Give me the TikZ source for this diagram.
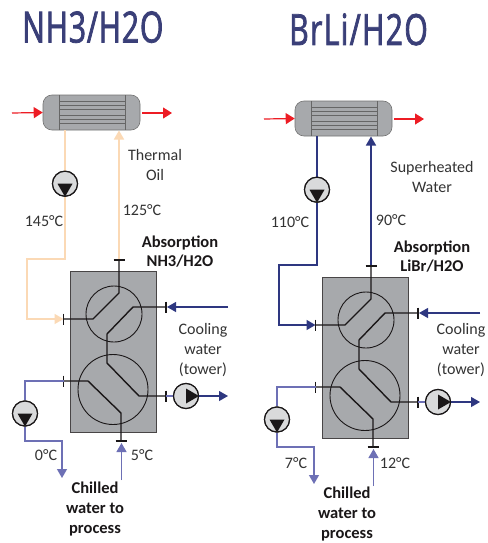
\documentclass[tikz,border=0pt]{standalone}
\usepackage{fontspec}
\setmainfont{Carlito}
\newfontfamily\titlefont[FakeStretch=0.70,FakeBold=1.8,LetterSpace=2]{Open Sans}
\newfontfamily\titlefontb[FakeStretch=0.70,FakeBold=1.8,LetterSpace=3.2]{Open Sans}
\usetikzlibrary{arrows.meta}
\definecolor{oilc}{HTML}{FBD9B5}
\definecolor{darkb}{HTML}{2E3780}
\definecolor{lightb}{HTML}{6D70B5}
\definecolor{titleb}{HTML}{3A3F78}
\definecolor{redc}{HTML}{ED1C24}
\definecolor{blk}{HTML}{1A1718}
\definecolor{boxg}{HTML}{A7A9AC}
\definecolor{pumpg}{HTML}{D9DADB}
\definecolor{txt}{HTML}{333333}
\tikzset{
  unitbox/.style={draw=blk!80,line width=1pt,fill=boxg,minimum width=85.5pt,minimum height=161pt,inner sep=0pt},
  condbox/.style={draw=black!55,line width=.6pt,fill=boxg,rounded corners=9pt,minimum width=97pt,minimum height=35pt,inner sep=0pt},
  hxring/.style={circle,draw=blk,line width=.9pt,inner sep=0pt},
  pumpn/.style={circle,draw=blk,line width=1.2pt,fill=pumpg,minimum size=25pt,inner sep=0pt},
  tip/.style={-{Triangle[length=9pt,width=10pt]}},
  redarrow/.style={draw=redc,line width=1.2pt,-{Triangle[length=9pt,width=11pt]}},
  blackline/.style={draw=blk,line width=1.4pt},
  lab/.style={text=txt,font=\fontsize{16}{17}\selectfont,inner sep=0pt,align=center},
  blab/.style={text=blk,font=\fontsize{16.5}{17}\selectfont\bfseries,inner sep=0pt,align=center},
  titlelab/.style={text=titleb,inner sep=0pt,anchor=base west}
}
\newcommand{\tickh}[2]{\draw[blackline] (#1)+(-5.5,#2) -- +(5.5,#2);}
\newcommand{\tickv}[2]{\draw[blackline] (#1)+(#2,-5.5) -- +(#2,5.5);}
% #1 prefix, #2 x shift, #3 y shift, #4 hot colour
\newcommand{\unitdraw}[4]{
\begin{scope}[shift={(#2,#3)}]
  % condenser
  \node[condbox] (#1cond) at (91.5,112.5) {};
  \draw[line width=.7pt,black!60] (59,95) -- (59,130) (125,95) -- (125,130);
  \foreach \yy/\ww in {101/.8,105/.5,109.5/.9,115/.8,119/.5,123.5/.9}
    \draw[line width=\ww pt,black!60] (59,\yy) -- (125,\yy);
  \coordinate (#1rin) at (12,113);
  \coordinate (#1rout) at (142,113);
  \coordinate (#1rend) at (172,113);
  \draw[redarrow] (#1rin) -- (#1cond.west);
  \draw[redarrow] (#1rout) -- (#1rend);
  % box and rings
  \node[unitbox] (#1box) at (113.25,351.5) {};
  \node[hxring,minimum size=56pt] (#1top) at (114,314) {};
  \node[hxring,minimum size=70pt] (#1bot) at (113,389.5) {};
  % hot loop
  \coordinate (#1a) at (65,259);
  \coordinate (#1b) at (27,259);
  \coordinate (#1c) at (27,319);
  \coordinate (#1d) at (63.5,319);
  \coordinate (#1e) at (119,260);
  \coordinate (#1f) at (119,130.5);
  \node[pumpn] (#1p1) at (65,183.7) {};
  \draw[draw=#4,line width=1.6pt] (65,130) -- (#1p1);
  \draw[draw=#4,line width=1.6pt,tip] (#1p1) -- (#1a) -- (#1b) -- (#1c) -- (#1d);
  \draw[draw=#4,line width=1.6pt,tip] (#1e) -- (#1f);
  \node[pumpn] at (#1p1) {};
  \fill[blk] (#1p1)+(-7.5,0) -- +(7.5,0) -- +(0,13) -- cycle;
  % black internals
  \coordinate (#1g) at (119,293);
  \coordinate (#1h) at (93,319);
  \coordinate (#1i) at (166,307);
  \coordinate (#1j) at (133,307);
  \coordinate (#1k) at (107,334);
  \coordinate (#1l) at (107,363);
  \coordinate (#1m) at (139,396);
  \coordinate (#1n) at (166,396);
  \coordinate (#1o) at (63.5,381);
  \coordinate (#1q) at (88,381);
  \coordinate (#1r) at (121,413);
  \coordinate (#1s) at (121,441);
  \draw[blackline] (#1e) -- (#1g) -- (#1h) -- (#1d);
  \draw[blackline] (#1i) -- (#1j) -- (#1k) -- (#1l) -- (#1m) -- (#1n);
  \draw[blackline] (#1o) -- (#1q) -- (#1r) -- (#1s);
  \tickh{#1e}{0}
  \tickh{#1s}{0}
  \tickv{#1d}{0}
  \tickv{#1i}{0}
  \tickv{#1n}{0}
  \tickv{#1o}{0}
  % cooling water
  \coordinate (#1w) at (228,307);
  \coordinate (#1x) at (228,396);
  \draw[draw=darkb,line width=1.1pt,tip] (#1w) -- (167,307);
  \node[pumpn] (#1p2) at (186,396) {};
  \draw[draw=lightb,line width=1.2pt] (#1n) -- (#1p2);
  \draw[draw=darkb,line width=1.1pt,tip] (#1p2) -- (#1x);
  \node[pumpn] at (#1p2) {};
  \fill[blk] (#1p2)+(0,-7.5) -- +(0,7.5) -- +(13,0) -- cycle;
  % chilled water
  \coordinate (#1t) at (25,381);
  \coordinate (#1u) at (25,441);
  \coordinate (#1v) at (62,441);
  \coordinate (#1y) at (62,478);
  \coordinate (#1z) at (121.5,480);
  \coordinate (#1zz) at (121.5,443);
  \node[pumpn] (#1p3) at (25,413.5) {};
  \draw[draw=lightb,line width=1.3pt] (#1o) -- (#1t) -- (#1p3);
  \draw[draw=lightb,line width=1.3pt,tip] (#1p3) -- (#1u) -- (#1v) -- (#1y);
  \draw[draw=lightb,line width=1.3pt,tip] (#1z) -- (#1zz);
  \node[pumpn] at (#1p3) {};
  \fill[blk] (#1p3)+(-7.5,0) -- +(7.5,0) -- +(0,13) -- cycle;
\end{scope}
}
\begin{document}
\begin{tikzpicture}[x=1pt,y=-1pt]
\useasboundingbox (0,0) rectangle (487,543);
\fill[white] (0,0) rectangle (487,543);
\unitdraw{l}{0}{0}{oilc}
\unitdraw{r}{252}{6}{darkb}
% titles
\node[titlelab,font=\titlefont\fontsize{43}{46}\selectfont] (t1) at (22,42.5) {NH3/H2O};
\node[titlelab,font=\titlefontb\fontsize{43}{46}\selectfont] (t2) at (289,45) {BrLi/H2O};
% left labels
\node[lab] (l1) at (155,165) {Thermal\\[3pt]Oil};
\node[lab] (l2) at (142,210) {125°C};
\node[lab] (l3) at (44,221) {145°C};
\node[blab] (l4) at (180,251.5) {Absorption\\[2pt]NH3/H2O};
\node[lab] (l5) at (203,350) {Cooling\\[3pt]water\\[3pt](tower)};
\node[lab] (l6) at (46,455) {0°C};
\node[lab] (l7) at (142,455) {5°C};
\node[blab] (l8) at (95,509) {Chilled\\[3pt]water to\\[3pt]process};
% right labels
\node[lab] (r1) at (432,177) {Superheated\\[3pt]Water};
\node[lab] (r2) at (391,220) {90°C};
\node[lab] (r3) at (290,222) {110°C};
\node[blab] (r4) at (432,257) {Absorption\\[2pt]LiBr/H2O};
\node[lab] (r5) at (461,350) {Cooling\\[3pt]water\\[3pt](tower)};
\node[lab] (r6) at (296,463) {7°C};
\node[lab] (r7) at (395,463) {12°C};
\node[blab] (r8) at (347,514) {Chilled\\[3pt]water to\\[3pt]process};
\end{tikzpicture}
\end{document}
